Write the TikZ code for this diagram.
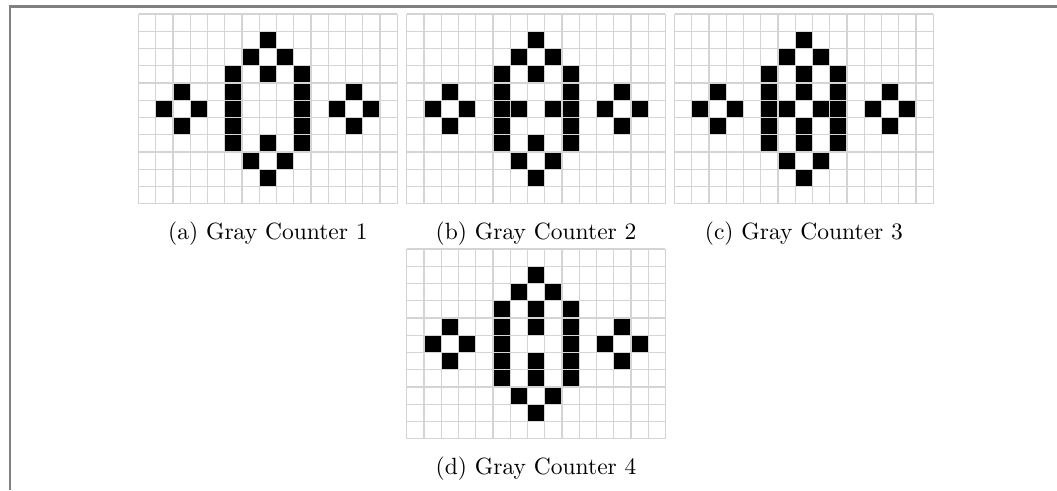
\documentclass[tikz,border=0pt]{standalone}
\usepackage{tikz}
\usetikzlibrary{positioning}
\tikzset{
  % --- boards ----------------------------------------------------------------
  gridline/.style={draw=black!17,line width=0.55pt},
  cell/.style={fill=black},
  caption/.style={font=\normalsize,anchor=base,inner sep=0pt},
  % --- page frame ------------------------------------------------------------
  frameline/.style={draw=black!50,line width=0.9pt},
}
% one 15x11 board: #1 = top-left corner, #2 = extra live cells (column/row)
\newcommand{\counterboard}[2]{%
  \begin{scope}[shift={(#1)},x=7.34pt,y=-7.34pt]
    \foreach \c in {0,...,15} \draw[gridline] (\c,0) -- (\c,11);
    \foreach \r in {0,...,11} \draw[gridline] (0,\r) -- (15,\r);
    % side diamonds, ring, then the counter bits
    \foreach \c/\r in {2/4,1/5,3/5,2/6,12/4,11/5,13/5,12/6,
                       7/1,6/2,8/2,5/3,9/3,5/4,9/4,5/5,9/5,5/6,9/6,5/7,9/7,
                       6/8,8/8,7/9,#2}
      \fill[cell] (\c+0.04,\r+0.04) rectangle (\c+0.96,\r+0.96);
  \end{scope}}

\begin{document}
\begin{tikzpicture}[x=0.4255pt,y=-0.4255pt]
  \useasboundingbox (0,0) rectangle (1057,490);
  \draw[frameline] (10,490) -- (10,6.5) -- (1057,6.5);
  \coordinate (boarda) at (138.5,14);
  \coordinate (boardb) at (406.7,14);
  \coordinate (boardc) at (674.5,14);
  \coordinate (boardd) at (406.7,249);
  \counterboard{boarda}{7/3,7/7}
  \counterboard{boardb}{7/3,7/7,6/5,8/5}
  \counterboard{boardc}{7/3,7/4,7/6,7/7,6/5,8/5}
  \counterboard{boardd}{7/3,7/4,7/6,7/7}
  \node[caption] (capa) at (267.9,239) {(a) Gray Counter 1};
  \node[caption] (capb) at (536.1,239) {(b) Gray Counter 2};
  \node[caption] (capc) at (803.9,239) {(c) Gray Counter 3};
  \node[caption] (capd) at (536.1,474) {(d) Gray Counter 4};
\end{tikzpicture}
\end{document}
